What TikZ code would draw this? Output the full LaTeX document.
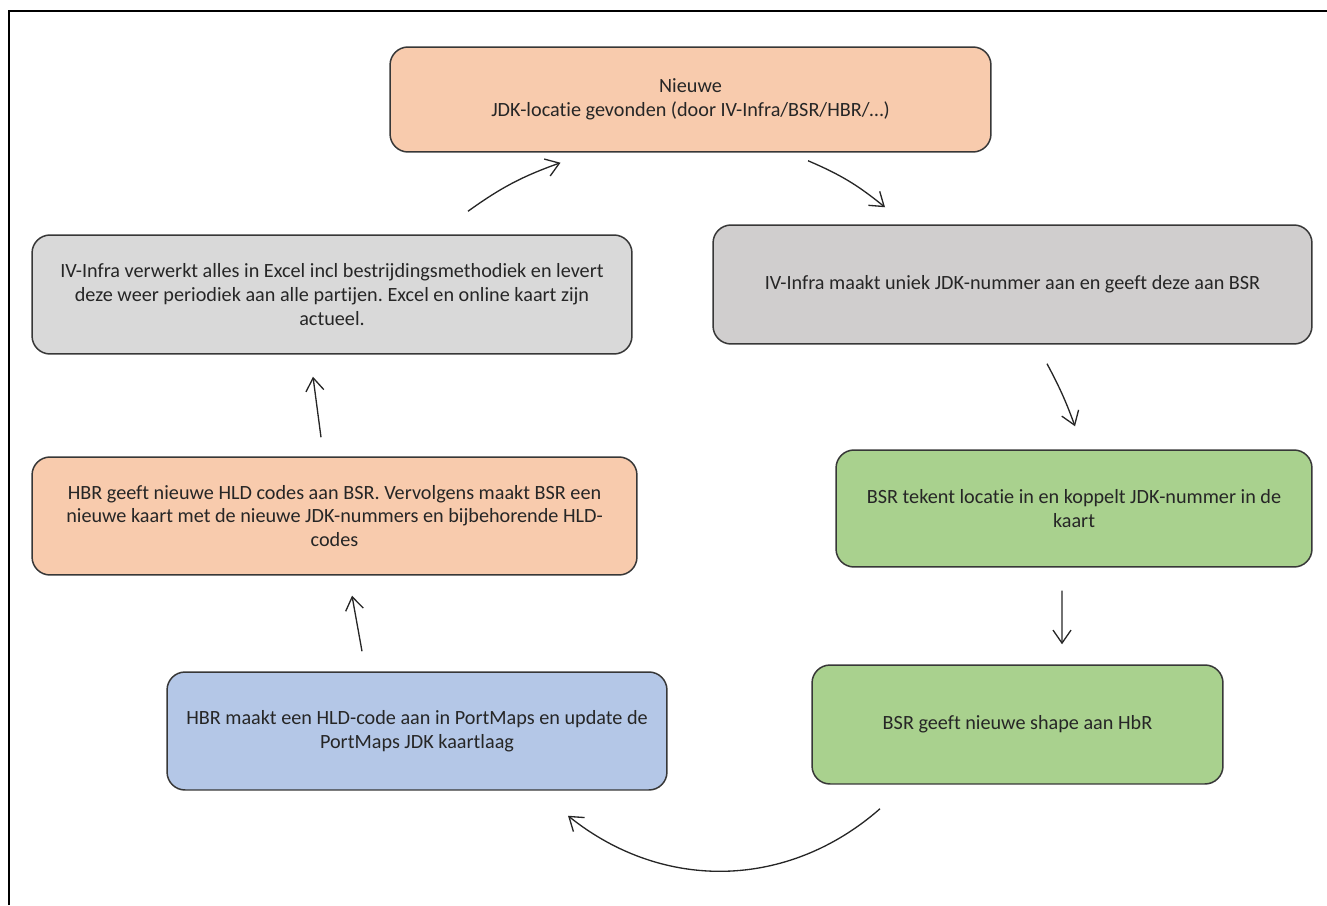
\documentclass[tikz,border=0pt]{standalone}
\definecolor{ink}{RGB}{38,38,38}
\definecolor{edge}{RGB}{55,55,55}
\definecolor{peach}{RGB}{248,203,173}
\definecolor{greyA}{RGB}{217,217,217}
\definecolor{greyB}{RGB}{208,206,206}
\definecolor{leaf}{RGB}{169,209,142}
\definecolor{sky}{RGB}{180,199,231}
\usepackage{fontspec}
\setmainfont{Carlito}[RawFeature={-liga}]
\frenchspacing
\usepackage{tikz}
\usetikzlibrary{arrows.meta,positioning}
\tikzset{
  box/.style={draw=edge, line width=0.85pt, rounded corners=0.36cm, inner sep=0pt,
              align=center, text=ink, font=\fontsize{11.5}{13.6}\selectfont},
  flow/.style={-{Straight Barb[length=2.6mm,width=3.6mm]}, ink, line width=0.75pt},
}
\begin{document}
\begin{tikzpicture}[x=0.02cm, y=-0.02cm]
  \useasboundingbox (0,0) rectangle (1327,905);
  \draw[black, line width=1.2pt] (9,905) -- (9,11) -- (1327,11);
  % stappen
  \node[box, fill=peach, minimum width=12.02cm, minimum height=2.10cm] (new) at (690.5,99.5)
    {Nieuwe\\JDK-locatie gevonden (door IV-Infra/BSR/HBR/…)};
  \node[box, fill=greyB, minimum width=11.98cm, minimum height=2.38cm] (num) at (1012.5,284.5)
    {IV-Infra maakt uniek JDK-nummer aan en geeft deze aan BSR};
  \node[box, fill=leaf, minimum width=9.52cm, minimum height=2.34cm] (map) at (1074,508.5)
    {BSR tekent locatie in en koppelt JDK-nummer in de\\kaart};
  \node[box, fill=leaf, minimum width=8.22cm, minimum height=2.38cm] (shp) at (1017.5,724.5)
    {BSR geeft nieuwe shape aan HbR};
  \node[box, fill=sky, minimum width=10.0cm, minimum height=2.36cm] (hld) at (417,731)
    {HBR maakt een HLD-code aan in PortMaps en update de\\PortMaps JDK kaartlaag};
  \node[box, fill=peach, minimum width=12.1cm, minimum height=2.36cm] (kaart) at (334.5,516)
    {HBR geeft nieuwe HLD codes aan BSR. Vervolgens maakt BSR een\\nieuwe kaart met de nieuwe JDK-nummers en bijbehorende HLD-\\codes};
  \node[box, fill=greyA, minimum width=12.0cm, minimum height=2.38cm] (xls) at (332,294.5)
    {IV-Infra verwerkt alles in Excel incl bestrijdingsmethodiek en levert\\deze weer periodiek aan alle partijen. Excel en online kaart zijn\\actueel.};
  % pijlen
  \draw[flow] ([shift={(117.5,8)}]new.south) to[bend left=8] ([shift={(-127.5,-17)}]num.north);
  \draw[flow] ([shift={(34.5,19)}]num.south) to[bend left=4] ([shift={(1,-23)}]map.north);
  \draw[flow] ([shift={(-12,23)}]map.south) -- ([shift={(44.5,-20)}]shp.north);
  \draw[flow] ([shift={(-137.5,24)}]shp.south) to[bend left=40] ([shift={(151,25)}]hld.south);
  \draw[flow] ([shift={(-55,-20)}]hld.north) -- ([shift={(17.5,20)}]kaart.south);
  \draw[flow] ([shift={(-13.5,-19)}]kaart.north) -- ([shift={(-19,22)}]xls.south);
  \draw[flow] ([shift={(136,-23)}]xls.north) to[bend left=8] ([shift={(-130,10)}]new.south);
\end{tikzpicture}
\end{document}
